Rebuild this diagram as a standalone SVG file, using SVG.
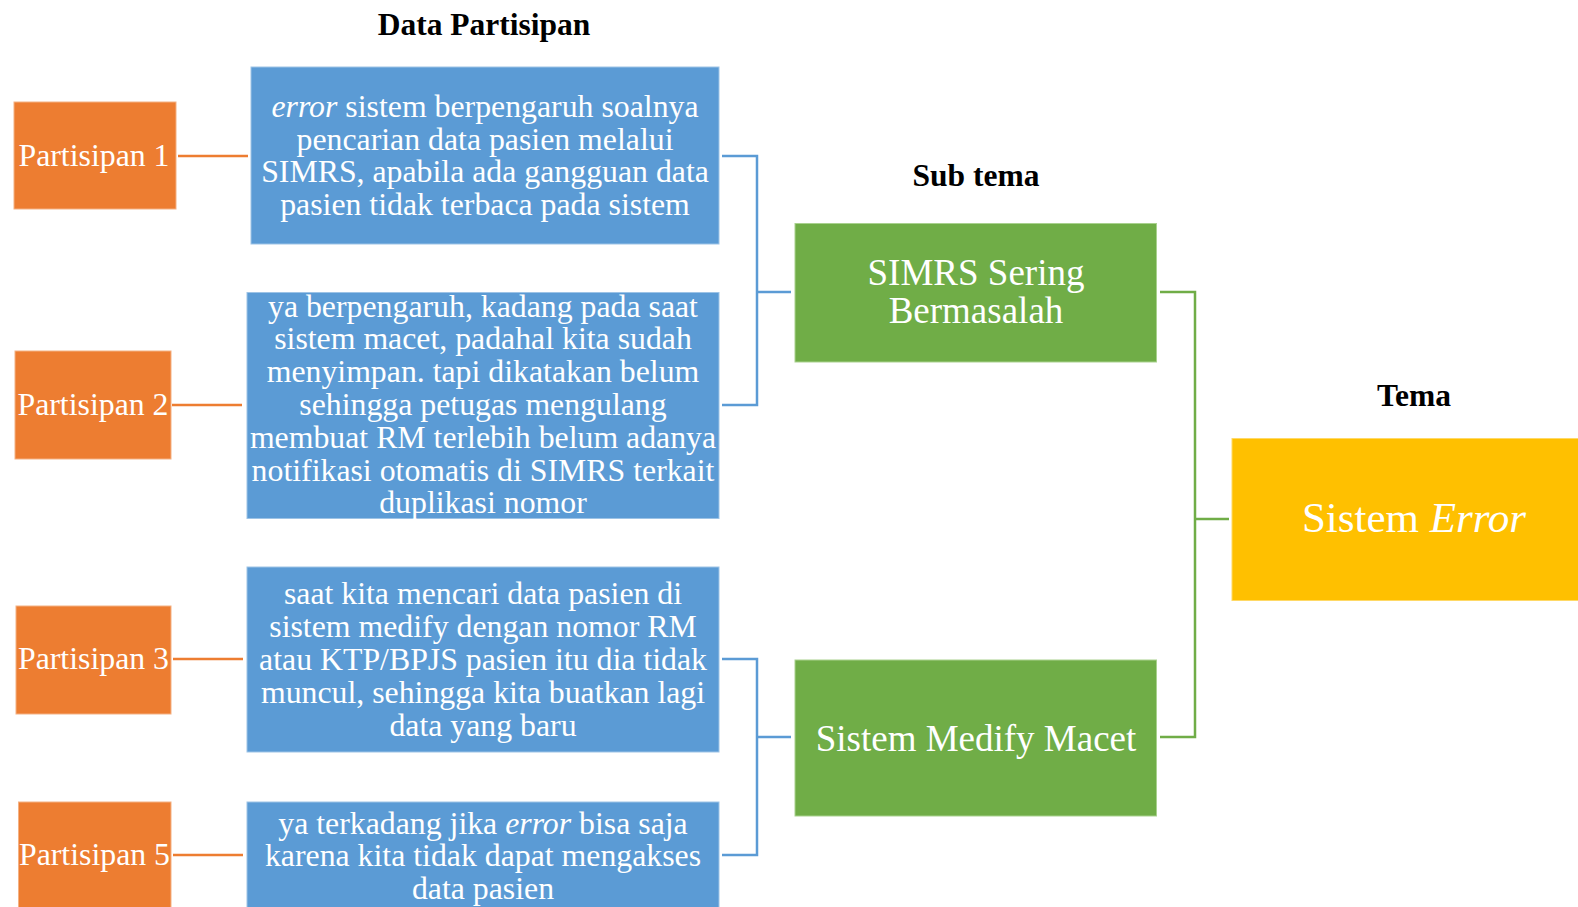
<svg xmlns="http://www.w3.org/2000/svg" width="1578" height="907" viewBox="0 0 1578 907">
<style>
.hd{font-family:"Liberation Serif","Times New Roman",serif;font-weight:bold;font-size:31.5px;fill:#000;text-anchor:middle}
.t{font-family:"Liberation Serif","Times New Roman",serif;fill:#fff;text-anchor:middle}
.p{font-size:31.8px}
.q{font-size:31.8px}
.s{font-size:37px}
.th{font-size:43px}
.or{fill:#ED7D31;stroke:#F4B183;stroke-width:1}
.bl{fill:#5B9BD5;stroke:#9DC3E6;stroke-width:1}
.gr{fill:#70AD47;stroke:#A9D18E;stroke-width:1}
.ye{fill:#FFC000;stroke:#FFD966;stroke-width:1}
.c{fill:none;stroke-width:2.5}
</style>
<rect width="1578" height="907" fill="#fff"/>
<text class="hd" x="484" y="35">Data Partisipan</text>
<text class="hd" x="976" y="185.5">Sub tema</text>
<text class="hd" x="1414" y="405.5">Tema</text>

<g id="connectors">
<path class="c" stroke="#ED7D31" d="M178,156H248M172,405H242M173,659H243M173,855H243"/>
<path class="c" stroke="#5B9BD5" d="M722,156H757V405H722M757,292H791M722,659H757V855H722M757,737H791"/>
<path class="c" stroke="#70AD47" d="M1160,292H1195V737H1160M1195,519H1229"/>
</g>

<g id="p1"><rect class="or" x="14" y="102" width="162" height="107"/><text class="t p" x="94" y="166">Partisipan 1</text></g>
<g id="p2"><rect class="or" x="15" y="351" width="156" height="108"/><text class="t p" x="93" y="415">Partisipan 2</text></g>
<g id="p3"><rect class="or" x="16" y="606" width="155" height="108"/><text class="t p" x="93.5" y="669">Partisipan 3</text></g>
<g id="p5"><rect class="or" x="18.5" y="802" width="152.5" height="110"/><text class="t p" x="94.5" y="865">Partisipan 5</text></g>

<g id="b1"><rect class="bl" x="251" y="67" width="468" height="177"/>
<text class="t q"><tspan x="485" y="117"><tspan font-style="italic">error</tspan> sistem berpengaruh soalnya</tspan><tspan x="485" y="149.7">pencarian data pasien melalui</tspan><tspan x="485" y="182.4">SIMRS, apabila ada gangguan data</tspan><tspan x="485" y="215.1">pasien tidak terbaca pada sistem</tspan></text></g>

<g id="b2"><rect class="bl" x="247" y="292.5" width="472" height="226"/>
<text class="t q"><tspan x="483" y="316.5">ya berpengaruh, kadang pada saat</tspan><tspan x="483" y="349.3">sistem macet, padahal kita sudah</tspan><tspan x="483" y="382.1">menyimpan. tapi dikatakan belum</tspan><tspan x="483" y="414.9">sehingga petugas mengulang</tspan><tspan x="483" y="447.7">membuat RM terlebih belum adanya</tspan><tspan x="483" y="480.5">notifikasi otomatis di SIMRS terkait</tspan><tspan x="483" y="513.3">duplikasi nomor</tspan></text></g>

<g id="b3"><rect class="bl" x="247" y="567" width="472" height="185"/>
<text class="t q"><tspan x="483" y="603.5">saat kita mencari data pasien di</tspan><tspan x="483" y="636.5">sistem medify dengan nomor RM</tspan><tspan x="483" y="669.5">atau KTP/BPJS pasien itu dia tidak</tspan><tspan x="483" y="702.5">muncul, sehingga kita buatkan lagi</tspan><tspan x="483" y="735.5">data yang baru</tspan></text></g>

<g id="b5"><rect class="bl" x="247" y="802" width="472" height="110"/>
<text class="t q"><tspan x="483" y="833.5">ya terkadang jika <tspan font-style="italic">error</tspan> bisa saja</tspan><tspan x="483" y="866">karena kita tidak dapat mengakses</tspan><tspan x="483" y="898.5">data pasien</tspan></text></g>

<g id="s1"><rect class="gr" x="795" y="223.5" width="361.5" height="138.5"/>
<text class="t s"><tspan x="976" y="284.5">SIMRS Sering</tspan><tspan x="976" y="323">Bermasalah</tspan></text></g>

<g id="s2"><rect class="gr" x="795" y="660" width="361.5" height="156"/>
<text class="t s" x="976" y="750.5">Sistem Medify Macet</text></g>

<g id="tema"><rect class="ye" x="1232" y="438.5" width="360" height="162"/>
<text class="t th" x="1414" y="532">Sistem <tspan font-style="italic">Error</tspan></text></g>
</svg>
